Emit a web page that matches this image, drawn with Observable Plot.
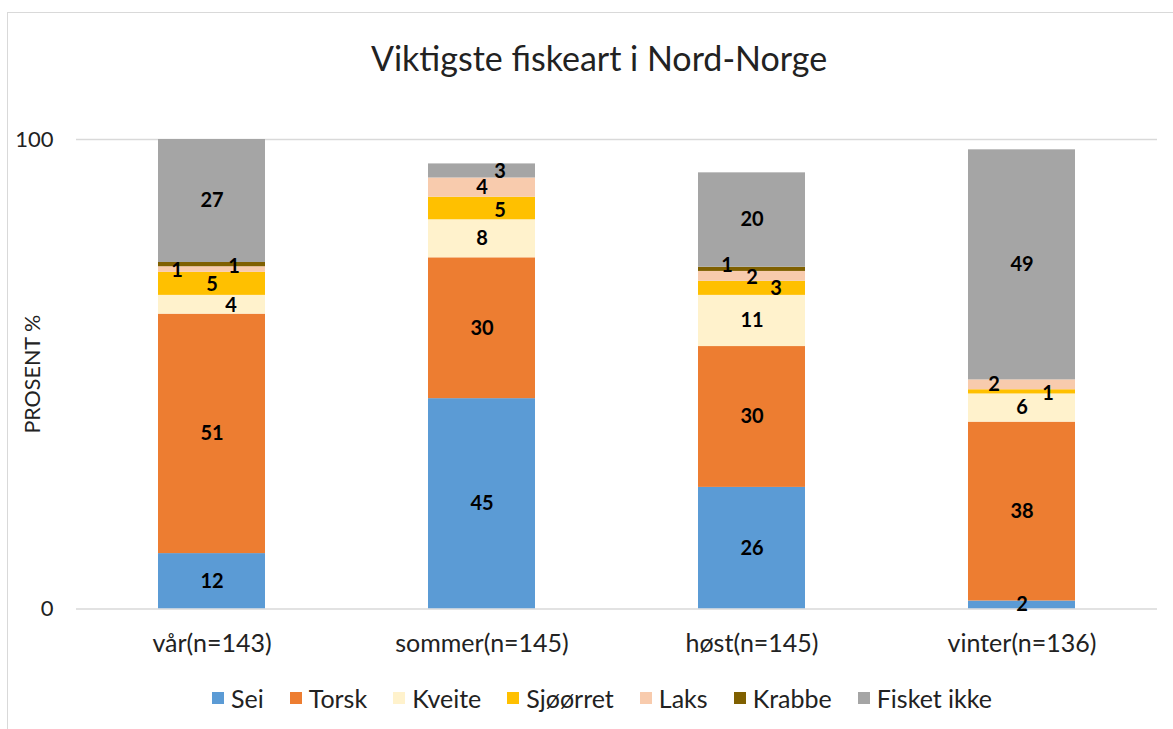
<!DOCTYPE html>
<html>
<head>
<meta charset="utf-8">
<script src="https://cdn.jsdelivr.net/npm/d3@7"></script>
<script src="https://cdn.jsdelivr.net/npm/@observablehq/plot@0.6"></script>
<style>
  html, body { margin: 0; padding: 0; background: #fff; }
  body { width: 1173px; height: 729px; overflow: hidden; position: relative; font-family: Lato, "Open Sans", sans-serif; }
  #frame { position: absolute; left: 7px; top: 12px; width: 1200px; height: 800px; border-left: 1.5px solid #d9d9d9; border-top: 1.5px solid #d9d9d9; box-sizing: border-box; }
  #title { position: absolute; left: 0; top: 37px; width: 1198px; text-align: center; font-size: 34px; color: #222; line-height: 42px; }
  #chart { position: absolute; left: 0; top: 100px; }
  #legend { position: absolute; left: 0; top: 683px; width: 1204px; display: flex; justify-content: center; align-items: center; font-size: 25px; color: #222; line-height: 30px; }
  .item { display: flex; align-items: center; margin: 0 13px; }
  .sw { width: 12px; height: 12px; margin-right: 7px; }
</style>
</head>
<body>
<div id="frame"></div>
<div id="title">Viktigste fiskeart i Nord-Norge</div>
<div id="chart"></div>
<div id="legend"></div>
<script>
const seasons = ["vår(n=143)", "sommer(n=145)", "høst(n=145)", "vinter(n=136)"];
const species = ["Sei", "Torsk", "Kveite", "Sjøørret", "Laks", "Krabbe", "Fisket ikke"];
const colors  = ["#5b9bd5", "#ed7d31", "#fff2cc", "#ffc000", "#f8cbad", "#7f6000", "#a5a5a5"];

const sei        = [11.8, 44.8, 25.9, 1.7];
const torsk      = [51.0, 30.0, 30.0, 38.1];
const kveite     = [4.0, 8.1, 10.9, 6.0];
const sjoorret   = [4.9, 4.8, 3.0, 0.9];
const laks       = [1.2, 4.1, 2.1, 2.1];
const krabbe     = [0.9, 0, 0.9, 0];
const fisketIkke = [26.6, 3.0, 20.1, 49.0];
const yTicks = [0, 100];

const series = [sei, torsk, kveite, sjoorret, laks, krabbe, fisketIkke];
const data = [];
seasons.forEach((s, i) => species.forEach((sp, j) => data.push({season: s, species: sp, value: series[j][i]})));

// label nudges (layout only) to avoid overlap of thin segments, like the original
const nudge = {
  "0|Kveite": [19, 1], "0|Sjøørret": [0, 1], "0|Laks": [-35, 1], "0|Krabbe": [22, 2], "0|Fisket ikke": [0, 1],
  "1|Sjøørret": [18, 2], "1|Fisket ikke": [18, 1],
  "2|Sjøørret": [24, 0], "2|Laks": [0, 1], "2|Krabbe": [-25, -4],
  "3|Sjøørret": [26, 2], "3|Laks": [-28, 0]
};

const stackOpts = {x: "season", y: "value", z: "species", order: species};
const labelMarks = data.map((d, k) => {
  if (!(d.value > 0)) return null;
  const key = seasons.indexOf(d.season) + "|" + d.species;
  const [dx, dy] = nudge[key] || [0, 0];
  return Plot.text(data, Plot.filter((_, i) => i === k, Plot.stackY({
    ...stackOpts,
    text: v => d3.format(".0f")(v.value),
    dx, dy,
    fontSize: 20, fontWeight: "bold", fill: "#000",
    fontFamily: "Lato, sans-serif"
  })));
}).filter(Boolean);

const plot = Plot.plot({
  width: 1173,
  height: 570,
  marginTop: 39,
  marginBottom: 61.5,
  marginLeft: 76,
  marginRight: 16,
  style: {fontFamily: "Lato, sans-serif", fontSize: "25px", color: "#222", background: "transparent"},
  x: {domain: seasons, paddingInner: 0.604, paddingOuter: 0.302, label: null, tickSize: 0, tickPadding: 25},
  y: {domain: [0, 100], ticks: yTicks, label: null, tickSize: 0, tickPadding: 23},
  color: {domain: species, range: colors},
  marks: [
    Plot.ruleY(yTicks, {stroke: "#d9d9d9", strokeWidth: 1.5}),
    Plot.barY(data, Plot.stackY({...stackOpts, fill: "species", clip: true})),
    ...labelMarks,
    Plot.text(["PROSENT %"], {frameAnchor: "left", textAnchor: "middle", dx: -43, rotate: -90, fontSize: 21.5, fill: "#222"})
  ]
});
plot.querySelectorAll('[aria-label="y-axis tick label"]').forEach(g => g.setAttribute("font-size", "22"));
document.getElementById("chart").appendChild(plot);

const legend = document.getElementById("legend");
species.forEach((sp, j) => {
  const it = document.createElement("div");
  it.className = "item";
  it.innerHTML = `<span class="sw" style="background:${colors[j]}"></span><span>${sp}</span>`;
  legend.appendChild(it);
});
</script>
</body>
</html>
